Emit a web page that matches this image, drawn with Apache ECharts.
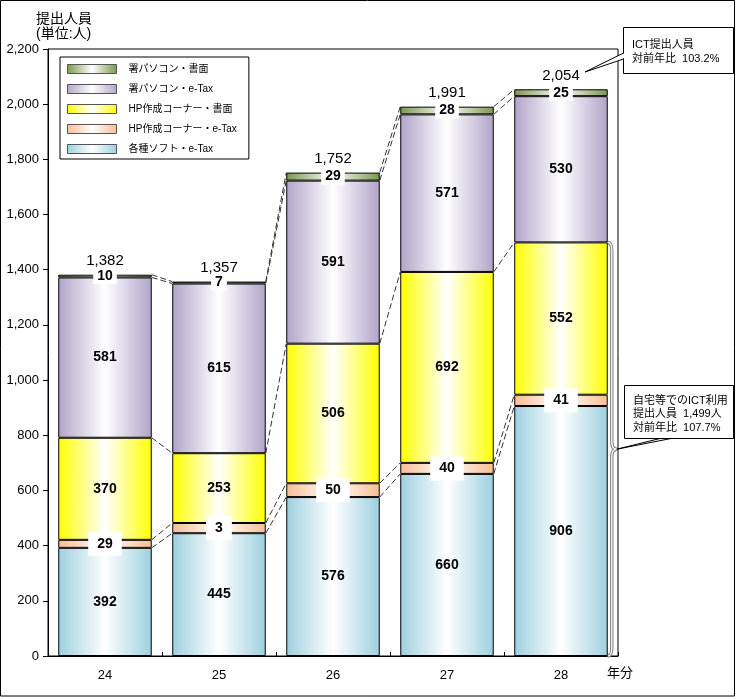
<!DOCTYPE html>
<html><head><meta charset="utf-8">
<script src="https://cdn.jsdelivr.net/npm/echarts/dist/echarts.min.js"></script>
<style>html,body{margin:0;padding:0;background:#fff}#c{width:736px;height:697px}</style>
</head><body><div id="c"></div>
<script>
// ---- data ----
const categories = ['24', '25', '26', '27', '28'];
const seriesNames = ['各種ソフト・e-Tax', 'HP作成コーナー・e-Tax', 'HP作成コーナー・書面', '署パソコン・e-Tax', '署パソコン・書面'];
const softEtax = [392, 445, 576, 660, 906];
const hpEtax = [29, 37, 50, 40, 41];
const hpEtaxLabels = ['29', '3', '50', '40', '41'];
const hpShomen = [370, 253, 506, 692, 552];
const pcEtax = [581, 615, 591, 571, 530];
const pcShomen = [10, 7, 29, 28, 25];
const yMin = 0, yMax = 2200, yStep = 200;
const legendOrder = ['署パソコン・書面', '署パソコン・e-Tax', 'HP作成コーナー・書面', 'HP作成コーナー・e-Tax', '各種ソフト・e-Tax'];

// ---- derived ----
const stacks = [softEtax, hpEtax, hpShomen, pcEtax, pcShomen];
const cum = categories.map((_, i) => { let s = 0; return stacks.map(a => (s += a[i])); });
const totals = cum.map(c => c[c.length - 1]);
const fmt = v => String(v).replace(/\B(?=(\d{3})+(?!\d))/g, ',');

const FONT = "'Liberation Sans','Noto Sans CJK JP',sans-serif";
const GAP = 0.18;
const colors = ['#9dd0df', '#f8bd94', '#ffff00', '#b1a4c9', '#7a984d'];
function grad(c) {
  return new echarts.graphic.LinearGradient(0, 0, 1, 0, [
    { offset: 0, color: c }, { offset: 0.5, color: '#ffffff' }, { offset: 1, color: c }
  ]);
}
const boxed = [false, true, false, false, true];
const boxPad = [0, [5, 9], 0, 0, [1, 4]];

const barSeries = stacks.map((arr, k) => ({
  name: seriesNames[k],
  type: 'bar',
  stack: 'total',
  barCategoryGap: (GAP * 100) + '%',
  data: arr,
  itemStyle: { color: grad(colors[k]), borderColor: '#000', borderWidth: 1 },
  label: {
    show: true,
    position: 'inside',
    formatter: p => (k === 1 ? hpEtaxLabels[p.dataIndex] : String(p.value)),
    fontFamily: FONT, fontWeight: 'bold', fontSize: 14, color: '#000',
    backgroundColor: boxed[k] ? '#fff' : 'transparent',
    padding: boxed[k] ? boxPad[k] : 0
  },
  emphasis: { disabled: true },
  z: 3
}));

const overlay = {
  type: 'custom',
  coordinateSystem: 'cartesian2d',
  data: categories.map((c, i) => [i, totals[i]]),
  encode: { x: 0, y: 1 },
  clip: false,
  silent: true,
  z: 2,
  renderItem: function (params, api) {
    const i = api.value(0);
    const bw = api.size([1, 0])[0] * (1 - GAP);
    const ch = [];
    if (i < categories.length - 1) {
      for (let k = 0; k < stacks.length; k++) {
        const a = api.coord([i, cum[i][k]]);
        const b = api.coord([i + 1, cum[i + 1][k]]);
        ch.push({ type: 'line', shape: { x1: a[0] + bw / 2, y1: a[1], x2: b[0] - bw / 2, y2: b[1] },
          style: { stroke: '#333', lineWidth: 1, lineDash: [6, 3] } });
      }
    }
    const t = api.coord([i, totals[i]]);
    ch.push({ type: 'text', z2: 10, style: { text: fmt(totals[i]), x: t[0], y: t[1] - 6, align: 'center', verticalAlign: 'bottom',
      font: '15px ' + FONT, fill: '#000' } });
    if (i === categories.length - 1) {
      const topP = api.coord([i, cum[i][2]]);
      const botP = api.coord([i, 0]);
      const x0 = topP[0] + bw / 2 + 4;
      const yT = topP[1], yB = botP[1], yM = (yT + yB) / 2;
      const parts = [
        { type: 'bezierCurve', shape: { x1: x0 - 4, y1: yT, cpx1: x0, cpy1: yT, x2: x0, y2: yT + 8 } },
        { type: 'line', shape: { x1: x0, y1: yT + 8, x2: x0, y2: yM - 8 } },
        { type: 'bezierCurve', shape: { x1: x0, y1: yM - 8, cpx1: x0, cpy1: yM, x2: x0 + 5, y2: yM } },
        { type: 'bezierCurve', shape: { x1: x0 + 5, y1: yM, cpx1: x0, cpy1: yM, x2: x0, y2: yM + 8 } },
        { type: 'line', shape: { x1: x0, y1: yM + 8, x2: x0, y2: yB - 8 } },
        { type: 'bezierCurve', shape: { x1: x0, y1: yB - 8, cpx1: x0, cpy1: yB, x2: x0 - 4, y2: yB } }
      ];
      parts.forEach(p => ch.push(Object.assign({}, p, { style: { stroke: '#8a8a8a', lineWidth: 3.5, fill: null } })));
      parts.forEach(p => ch.push(Object.assign({}, p, { style: { stroke: '#ffffff', lineWidth: 1.2, fill: null } })));
      ch.push({ type: 'polyline', shape: { points: [[660, 438.5], [x0 + 5, yM], [671, 438.5]] },
        style: { stroke: '#000', lineWidth: 1, fill: '#fff' } });
    }
    return { type: 'group', children: ch };
  }
};

const chart = echarts.init(document.getElementById('c'), null, { renderer: 'canvas' });
chart.setOption({
  animation: false,
  backgroundColor: '#fff',
  textStyle: { fontFamily: FONT },
  grid: { left: 48, right: 118, top: 49, bottom: 41, show: true, borderColor: '#000', borderWidth: 1, backgroundColor: 'transparent' },
  legend: {
    data: legendOrder,
    orient: 'vertical',
    left: 60, top: 57,
    padding: [7, 12, 5, 7],
    borderColor: '#000', borderWidth: 1,
    itemWidth: 49, itemHeight: 9, itemGap: 10,
    icon: 'rect',
    itemStyle: { borderColor: '#555', borderWidth: 1 },
    textStyle: { fontFamily: FONT, fontSize: 10, color: '#000', lineHeight: 9, padding: [0, 0, 0, 7] },
    selectedMode: false
  },
  xAxis: {
    type: 'category',
    data: categories,
    axisLine: { lineStyle: { color: '#000', width: 1 } },
    axisTick: { show: true, inside: true, length: 4, lineStyle: { color: '#000' } },
    axisLabel: { fontFamily: FONT, fontSize: 13, color: '#000', margin: 13 },
    splitLine: { show: false }
  },
  yAxis: {
    type: 'value',
    min: yMin, max: yMax, interval: yStep,
    axisLine: { show: true, lineStyle: { color: '#000', width: 1 } },
    axisTick: { show: true, length: 5, lineStyle: { color: '#000' } },
    axisLabel: { fontFamily: FONT, fontSize: 13, color: '#000', margin: 9, formatter: v => fmt(v) },
    splitLine: { show: false }
  },
  series: barSeries.concat([overlay]),
  graphic: [
    { type: 'rect', shape: { x: 0.5, y: 0.5, width: 734, height: 695.5 }, style: { stroke: '#000', lineWidth: 1, fill: null }, silent: true },
    { type: 'text', left: 36, top: 12, style: { text: '提出人員\n(単位:人)', font: '14px ' + FONT, fill: '#000', lineHeight: 15 } },
    { type: 'text', left: 607, top: 667, style: { text: '年分', font: '13px ' + FONT, fill: '#000' } },
    { type: 'rect', shape: { x: 623.5, y: 27.5, width: 110, height: 46 }, style: { stroke: '#000', lineWidth: 1, fill: '#fff' }, z: 5 },
    { type: 'polyline', shape: { points: [[623.5, 53], [585, 72], [623.5, 59]] }, style: { stroke: '#000', lineWidth: 1, fill: '#fff' }, z: 6 },
    { type: 'line', shape: { x1: 623.5, y1: 54, x2: 623.5, y2: 58 }, style: { stroke: '#fff', lineWidth: 1.5 }, z: 7 },
    { type: 'text', x: 632, y: 38, style: { text: 'ICT提出人員\n対前年比  103.2%', font: '11px ' + FONT, fill: '#000', lineHeight: 14 }, z: 7 },
    { type: 'rect', shape: { x: 624.5, y: 385.5, width: 109, height: 53 }, style: { stroke: '#000', lineWidth: 1, fill: '#fff' }, z: 5 },
    { type: 'text', x: 633, y: 394, style: { text: '自宅等でのICT利用\n提出人員  1,499人\n対前年比  107.7%', font: '11px ' + FONT, fill: '#000', lineHeight: 13.5 }, z: 7 }
  ]
});
</script>
</body></html>
